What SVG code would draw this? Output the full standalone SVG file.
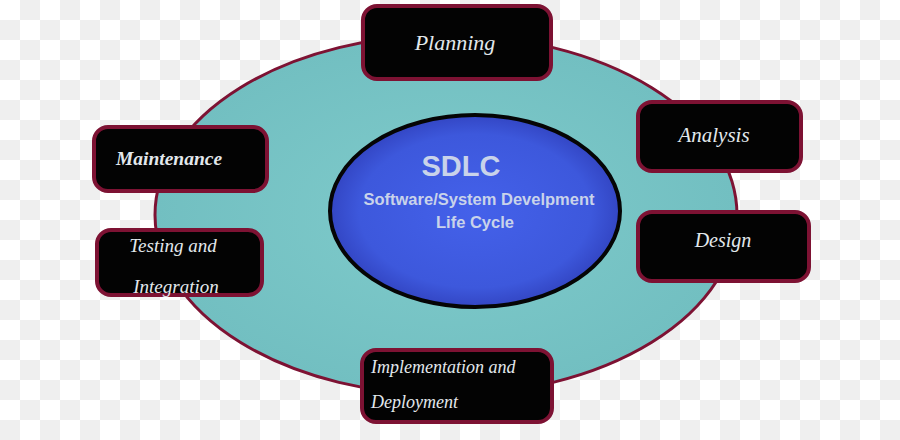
<svg xmlns="http://www.w3.org/2000/svg" width="900" height="440" viewBox="0 0 900 440">
<defs>
<pattern id="checker" width="40" height="40" patternUnits="userSpaceOnUse">
<rect width="40" height="40" fill="#ffffff"/>
<rect x="20" y="0" width="20" height="20" fill="#efefef"/>
<rect x="0" y="20" width="20" height="20" fill="#efefef"/>
</pattern>
<radialGradient id="teal" cx="0.5" cy="0.5" r="0.5">
<stop offset="0" stop-color="#7fcbcb"/>
<stop offset="1" stop-color="#72bfc1"/>
</radialGradient>
<radialGradient id="blue" cx="0.5" cy="0.5" r="0.5">
<stop offset="0" stop-color="#4461ea"/>
<stop offset="0.8" stop-color="#3d58dc"/>
<stop offset="1" stop-color="#3346c4"/>
</radialGradient>
</defs>
<style>
.box{fill:#030303;stroke:#7d1233;stroke-width:4}
.lbl{font-family:"Liberation Serif","DejaVu Serif",serif;font-style:italic;fill:#e2e8ec;text-anchor:middle}
.lbl.start{text-anchor:start}
.ctr{font-family:"Liberation Sans","Open Sans",sans-serif;font-weight:bold;fill:#c9d3ea;text-anchor:middle}
</style>
<rect width="900" height="440" fill="url(#checker)"/>
<g id="connectors">
<ellipse id="cycle-ring" cx="446" cy="215" rx="291" ry="180" fill="url(#teal)" stroke="#7d1233" stroke-width="3"/>
</g>
<g id="sdlc">
<ellipse cx="475" cy="211" rx="145" ry="96" fill="url(#blue)" stroke="#050505" stroke-width="4"/>
<text class="ctr" x="461" y="176" font-size="29">SDLC</text>
<text class="ctr" x="479" y="205" font-size="16.5">Software/System Develpment</text>
<text class="ctr" x="475" y="228" font-size="16.5">Life Cycle</text>
</g>
<g id="planning">
<rect class="box" x="363" y="6" width="188" height="73" rx="14"/>
<text class="lbl" x="455" y="50" font-size="22">Planning</text>
</g>
<g id="analysis">
<rect class="box" x="638" y="102" width="163" height="69" rx="14"/>
<text class="lbl" x="714" y="142" font-size="21">Analysis</text>
</g>
<g id="design">
<rect class="box" x="638" y="212" width="171" height="69" rx="14"/>
<text class="lbl" x="723" y="247" font-size="20">Design</text>
</g>
<g id="implementation">
<rect class="box" x="362" y="350" width="190" height="72" rx="14"/>
<text class="lbl start" x="371" y="373" font-size="18">Implementation and</text>
<text class="lbl start" x="371" y="408" font-size="18">Deployment</text>
</g>
<g id="testing">
<rect class="box" x="97" y="230" width="165" height="65" rx="14"/>
<text class="lbl" x="173" y="252" font-size="19">Testing and</text>
<text class="lbl" x="176" y="293" font-size="19">Integration</text>
</g>
<g id="maintenance">
<rect class="box" x="94" y="127" width="173" height="64" rx="14"/>
<text class="lbl" x="169" y="165" font-size="19.5" font-weight="bold">Maintenance</text>
</g>
</svg>
